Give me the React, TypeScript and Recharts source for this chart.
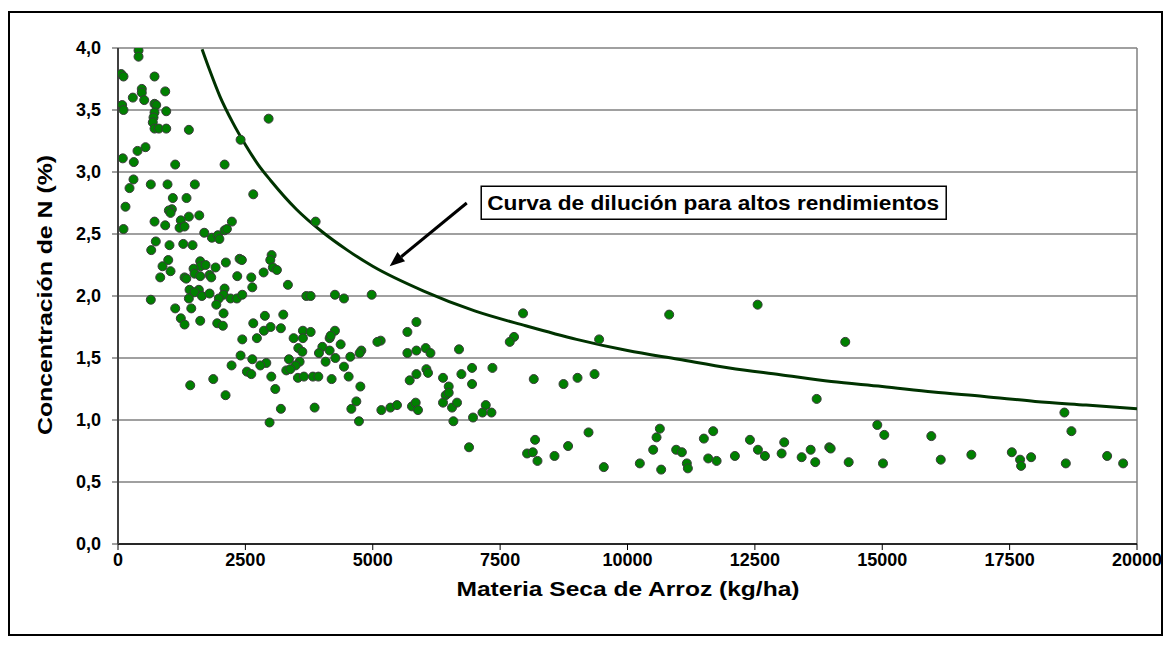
import React from 'react';
import {
  ComposedChart,
  Scatter,
  Line,
  XAxis,
  YAxis,
  CartesianGrid,
  ReferenceLine,
  ReferenceDot,
} from 'recharts';

// Materia seca (kg/ha) of each observation
const materiaSeca = [
  403, 403, 63, 108, 717, 467, 467, 927, 291, 515,
  82, 108, 717, 750, 717, 947, 697, 683, 717, 801,
  947, 1391, 2406, 540, 383, 94, 310, 1123, 2092, 304,
  226, 644, 972, 1508, 1076, 1345, 147, 1057, 2956, 2655,
  998, 1031, 108, 717, 927, 1233, 1391, 1595, 1208, 1306,
  1693, 1842, 1960, 1990, 2092, 2137, 2235, 742, 652, 1011,
  1281, 1463, 986, 874, 1031, 829, 1614, 1620, 1719, 1483,
  1502, 1306, 1340, 1614, 1797, 1830, 1915, 2117, 2386, 2431,
  2341, 644, 1404, 1587, 1502, 1646, 1391, 1797, 2092, 2072,
  1980, 2210, 2333, 2439, 1929, 2072, 1123, 1438, 1233, 1306,
  1614, 1948, 2058, 2439, 2406, 2229, 3879, 3015, 2989, 3040,
  3119, 2858, 2616, 2636, 3335, 3696, 3781, 4258, 4435, 4979,
  2655, 2883, 3244, 2864, 2995, 3197, 2726, 3447, 3629, 3629,
  3781, 4258, 4154, 4174, 4370, 4011, 3944, 4154, 3539, 3618,
  4776, 4743, 5156, 2636, 2911, 2793, 3355, 3565, 3486, 4075,
  4266, 4560, 4435, 2530, 2616, 3009, 3087, 3303, 3382, 3531,
  3649, 3826, 3932, 4193, 4527, 4757, 4678, 4580, 4729, 3197,
  3859, 2975, 6053, 6085, 5857, 5725, 6379, 6491, 6432, 6491,
  6379, 6556, 6654, 6583, 6740, 6949, 7349, 6949, 7218, 7153,
  7330, 6968, 6890, 5169, 5346, 5476, 5770, 5843, 5888, 5857,
  5680, 5091, 5680, 5857, 6039, 6132, 6693, 1418, 1870, 2111,
  7950, 7773, 7689, 9443, 10818, 12554, 8160, 8744, 9019, 9353,
  13713, 8186, 8029, 8141, 8233, 8567, 8834, 9235, 9535, 10242,
  10635, 10570, 10504, 10661, 10955, 11067, 11165, 11185, 11499, 11682,
  11584, 11749, 12108, 12403, 12560, 12697, 13025, 13076, 13418, 13595,
  13685, 13960, 14274, 13988, 14341, 14903, 15040, 15015, 15963, 16148,
  16749, 17543, 17705, 17725, 17922, 18575, 18713, 18603, 19414, 19728,
];

// Concentración de N (%) of each observation
const nitrogeno = [
  3.98, 3.93, 3.79, 3.77, 3.77, 3.67, 3.64, 3.65, 3.6, 3.58,
  3.54, 3.5, 3.55, 3.54, 3.48, 3.49, 3.44, 3.4, 3.35, 3.35,
  3.35, 3.34, 3.26, 3.2, 3.17, 3.11, 3.08, 3.06, 3.06, 2.94,
  2.87, 2.9, 2.9, 2.9, 2.79, 2.79, 2.72, 2.7, 3.43, 2.82,
  2.69, 2.67, 2.54, 2.6, 2.57, 2.61, 2.64, 2.65, 2.55, 2.56,
  2.51, 2.47, 2.49, 2.46, 2.53, 2.54, 2.6, 2.44, 2.37, 2.41,
  2.42, 2.41, 2.29, 2.24, 2.2, 2.15, 2.28, 2.24, 2.25, 2.22,
  2.18, 2.15, 2.14, 2.16, 2.17, 2.15, 2.23, 2.27, 2.3, 2.29,
  2.16, 1.97, 2.05, 2.05, 2.03, 2.0, 1.98, 2.02, 2.06, 2.01,
  1.98, 1.98, 1.98, 2.01, 1.93, 1.86, 1.9, 1.9, 1.82, 1.77,
  1.8, 1.78, 1.76, 1.65, 1.52, 1.44, 2.6, 2.33, 2.29, 2.23,
  2.21, 2.19, 2.15, 2.07, 2.09, 2.0, 2.0, 2.01, 1.98, 2.01,
  1.78, 1.84, 1.85, 1.72, 1.75, 1.74, 1.66, 1.66, 1.72, 1.66,
  1.71, 1.72, 1.66, 1.68, 1.61, 1.59, 1.54, 1.56, 1.58, 1.55,
  1.56, 1.54, 1.64, 1.49, 1.46, 1.44, 1.49, 1.47, 1.44, 1.47,
  1.5, 1.51, 1.43, 1.39, 1.37, 1.35, 1.25, 1.4, 1.41, 1.34,
  1.35, 1.35, 1.35, 1.33, 1.35, 1.27, 1.15, 1.09, 0.99, 1.09,
  1.1, 0.98, 1.41, 1.38, 1.37, 1.32, 1.34, 1.27, 1.2, 1.22,
  1.14, 1.1, 1.14, 0.99, 1.37, 1.42, 1.42, 1.29, 1.12, 1.06,
  1.06, 1.02, 0.78, 1.08, 1.1, 1.12, 1.11, 1.14, 1.08, 1.79,
  1.71, 1.63, 1.54, 1.56, 1.58, 1.54, 1.57, 1.28, 1.33, 1.2,
  1.86, 1.67, 1.63, 1.65, 1.85, 1.93, 1.33, 1.29, 1.34, 1.37,
  1.17, 0.84, 0.73, 0.74, 0.67, 0.71, 0.79, 0.9, 0.62, 0.65,
  0.93, 0.86, 0.76, 0.6, 0.76, 0.74, 0.65, 0.61, 0.85, 0.91,
  0.69, 0.67, 0.71, 0.84, 0.76, 0.71, 0.73, 0.82, 0.7, 0.76,
  0.66, 0.78, 1.63, 0.77, 0.66, 0.96, 0.88, 0.65, 0.87, 0.68,
  0.72, 0.74, 0.68, 0.63, 0.7, 1.06, 0.91, 0.65, 0.71, 0.65,
];

// Curva de dilución
const curvaX = [
  1650, 1800, 2000, 2250, 2500, 2750, 3000, 3500, 4000, 4500, 5000, 6000, 7000,
  8000, 9000, 10000, 11000, 12000, 13000, 14000, 15000, 16000, 17000, 18000, 19000, 20000,
];
const curvaN = [
  3.99, 3.82, 3.61, 3.4, 3.22, 3.06, 2.93, 2.7, 2.52, 2.37, 2.24, 2.04, 1.88,
  1.76, 1.65, 1.56, 1.49, 1.42, 1.365, 1.31, 1.27, 1.225, 1.19, 1.15, 1.12, 1.09,
];

const xTicks = [0, 2500, 5000, 7500, 10000, 12500, 15000, 17500, 20000];
const yTicks = [0, 0.5, 1, 1.5, 2, 2.5, 3, 3.5, 4];

const annotationText = 'Curva de dilución para altos rendimientos';
const xTitle = 'Materia Seca de Arroz (kg/ha)';
const yTitle = 'Concentración de N (%)';

const puntos = materiaSeca.map((x, i) => ({ x, y: nitrogeno[i] }));
const curva = curvaX.map((x, i) => ({ x, y: curvaN[i] }));

const FONT = '"Liberation Sans", Arial, Helvetica, sans-serif';

const fmt = (v: number) => v.toFixed(1).replace('.', ',');

const Dot = (p: any) => (
  <circle cx={p.cx} cy={p.cy} r={4.5} fill="#008000" stroke="#3a3a3a" strokeWidth={1} />
);

const ArrowShape = (p: any) => {
  const { x1, y1, x2, y2 } = p;
  const dx = x2 - x1;
  const dy = y2 - y1;
  const len = Math.sqrt(dx * dx + dy * dy) || 1;
  const ux = dx / len;
  const uy = dy / len;
  const hl = 15;
  const hw = 6;
  const bx = x2 - ux * hl;
  const by = y2 - uy * hl;
  const nx = -uy;
  const ny = ux;
  return (
    <g>
      <line x1={x1} y1={y1} x2={bx} y2={by} stroke="#000" strokeWidth={3} />
      <polygon
        points={`${x2},${y2} ${bx + nx * hw},${by + ny * hw} ${bx - nx * hw},${by - ny * hw}`}
        fill="#000"
      />
    </g>
  );
};

const BoxShape = (p: any) => {
  const { cx, cy } = p;
  return (
    <g>
      <rect x={cx} y={cy - 16.5} width={465} height={33} fill="#fff" stroke="#000" strokeWidth={1.5} />
      <text
        x={cx + 6}
        y={cy + 7}
        fontFamily={FONT}
        fontWeight="bold"
        fontSize={20}
        textLength={452}
        lengthAdjust="spacingAndGlyphs"
        fill="#000"
      >
        {annotationText}
      </text>
    </g>
  );
};

const XTitle = () => (
  <text
    x={620}
    y={588}
    textAnchor="middle"
    fontFamily={FONT}
    fontWeight="bold"
    fontSize={20}
    textLength={343}
    lengthAdjust="spacingAndGlyphs"
    fill="#000"
  >
    {xTitle}
  </text>
);

const YTitle = () => (
  <text
    x={37}
    y={287}
    transform="rotate(-90, 37, 287)"
    textAnchor="middle"
    dominantBaseline="central"
    fontFamily={FONT}
    fontWeight="bold"
    fontSize={20}
    textLength={280}
    lengthAdjust="spacingAndGlyphs"
    fill="#000"
  >
    {yTitle}
  </text>
);

export default function App() {
  const tickStyle = { fontFamily: FONT, fontWeight: 'bold', fontSize: 18, fill: '#000' };
  return (
    <div style={{ position: 'relative', width: 1155, height: 628 }}>
      <div
        style={{
          position: 'absolute',
          left: 0,
          top: 3,
          width: 1155,
          height: 625,
          border: '2px solid #000',
          boxSizing: 'border-box',
        }}
      />
      <div style={{ position: 'absolute', left: 0, top: 0 }}>
        <ComposedChart
          width={1155}
          height={628}
          margin={{ top: 40, right: 26, bottom: 62, left: 50 }}
        >
          <CartesianGrid horizontal vertical={false} stroke="#808080" strokeWidth={1.5} />
          <XAxis
            type="number"
            dataKey="x"
            domain={[0, 20000]}
            ticks={xTicks}
            interval={0}
            allowDataOverflow
            height={30}
            tickSize={6}
            tickMargin={3}
            tick={tickStyle}
            tickLine={{ stroke: '#000' }}
            axisLine={{ stroke: '#000', strokeWidth: 1.5 }}
            label={<XTitle />}
          />
          <YAxis
            type="number"
            dataKey="y"
            domain={[0, 4]}
            ticks={yTicks}
            interval={0}
            allowDataOverflow
            width={60}
            tickSize={6}
            tickMargin={11}
            tickFormatter={fmt}
            tick={tickStyle}
            tickLine={{ stroke: '#404040' }}
            axisLine={{ stroke: '#404040', strokeWidth: 2 }}
            label={<YTitle />}
          />
          <ReferenceLine x={20000} stroke="#808080" strokeWidth={1.5} />
          <Line
            data={curva}
            dataKey="y"
            type="monotone"
            stroke="#003300"
            strokeWidth={3}
            dot={false}
            activeDot={false}
            isAnimationActive={false}
          />
          <Scatter data={puntos} dataKey="y" shape={Dot} isAnimationActive={false} />
          <ReferenceLine
            segment={[
              { x: 6845, y: 2.75 },
              { x: 5332, y: 2.24 },
            ]}
            shape={ArrowShape}
          />
          <ReferenceDot x={7129} y={2.752} shape={BoxShape} />
        </ComposedChart>
      </div>
    </div>
  );
}
